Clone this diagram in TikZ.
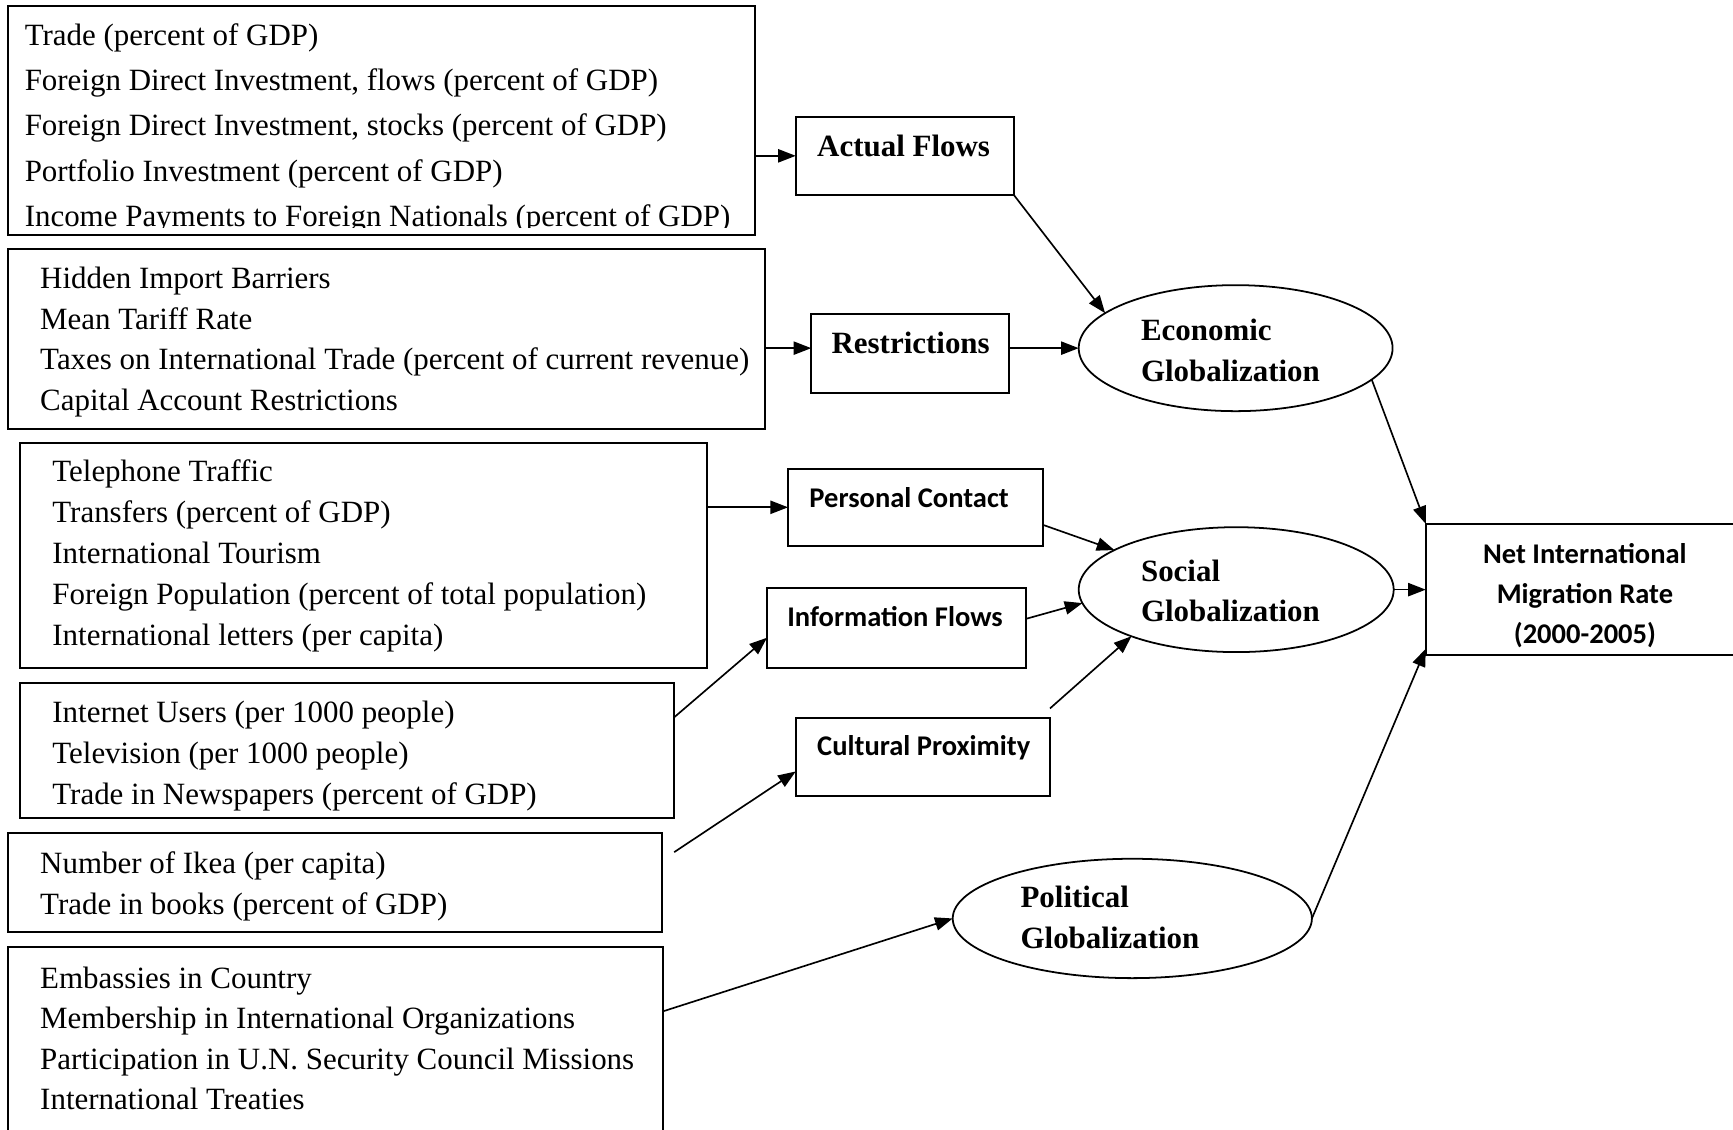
\documentclass[tikz,border=0pt]{standalone}
\usepackage{fontspec}
\setmainfont{Liberation Serif}
\setsansfont{Carlito}
\usetikzlibrary{arrows.meta,shapes.geometric,calc}
\tikzset{
  box/.style={draw, rectangle, line width=0.9pt, inner sep=0pt, outer sep=0pt},
  oval/.style={draw, ellipse, line width=0.8pt, inner sep=0pt, outer sep=0pt},
  item/.style={anchor=base west, inner sep=0pt, font=\fontsize{14}{17}\selectfont},
  lab/.style={anchor=base west, inner sep=0pt, font=\fontsize{14}{17}\selectfont\bfseries},
  slab/.style={anchor=base west, inner sep=0pt, font=\fontsize{12.9}{15}\selectfont\sffamily\bfseries},
  nlab/.style={anchor=base, inner sep=0pt, font=\fontsize{12.9}{15}\selectfont\sffamily\bfseries},
  conn/.style={line width=0.75pt, -{Triangle[length=8pt,width=6pt]}}
}
\begin{document}
\begin{tikzpicture}[x=0.5pt,y=-0.5pt]
\useasboundingbox (0,0) rectangle (1568,1022);
\coordinate (r315) at (0,315);
% indicator boxes
\node[box, minimum width=338pt, minimum height=104pt] (b1) at (345,109) {};
\node[box, minimum width=342.5pt, minimum height=81.5pt] (b2) at (349.5,306.5) {};
\node[box, minimum width=311pt, minimum height=101.5pt] (b3) at (329,502.5) {};
\node[box, minimum width=296pt, minimum height=61pt] (b4) at (314,679) {};
\node[box, minimum width=296pt, minimum height=44.5pt] (b5) at (303,798.5) {};
\node[box, minimum width=296.5pt, minimum height=91.5pt] (b6) at (303.5,948.5) {};
% sub-index boxes
\node[box, minimum width=98.5pt, minimum height=35pt] (af) at (818.5,141) {};
\node[box, minimum width=89.5pt, minimum height=36pt] (rs) at (823.5,320) {};
\node[box, minimum width=115.5pt, minimum height=35pt] (pc) at (828.5,459) {};
\node[box, minimum width=117pt, minimum height=36pt] (inf) at (811,568) {};
\node[box, minimum width=115pt, minimum height=35pt] (cp) at (835,685) {};
\node[box, minimum width=145pt, minimum height=59.5pt] (nim) at (1435,533.5) {};
% ellipses
\node[oval, minimum width=142pt, minimum height=57pt] (eco) at (1118,315) {};
\node[oval, minimum width=142.5pt, minimum height=56.5pt] (soc) at (1118.5,533.5) {};
\node[oval, minimum width=162.5pt, minimum height=54pt] (pol) at (1024.5,831) {};
% texts
\begin{scope}
\clip (7,5) rectangle (683,206);
\foreach \t [count=\i] in {{Trade (percent of GDP)},{Foreign Direct Investment, flows (percent of GDP)},{Foreign Direct Investment, stocks (percent of GDP)},{Portfolio Investment (percent of GDP)},{Income Payments to Foreign Nationals (percent of GDP)}}
  \node[item] (b1t\i) at (22,{41+41*(\i-1)}) {\t};
\end{scope}
\foreach \t [count=\i] in {{Hidden Import Barriers},{Mean Tariff Rate},{Taxes on International Trade (percent of current revenue)},{Capital Account Restrictions}}
  \node[item] (b2t\i) at (36,{261+36.7*(\i-1)}) {\t};
\foreach \t [count=\i] in {{Telephone Traffic},{Transfers (percent of GDP)},{International Tourism},{Foreign Population (percent of total population)},{International letters (per capita)}}
  \node[item] (b3t\i) at (47,{436+37*(\i-1)}) {\t};
\foreach \t [count=\i] in {{Internet Users (per 1000 people)},{Television (per 1000 people)},{Trade in Newspapers (percent of GDP)}}
  \node[item] (b4t\i) at (47,{654+37*(\i-1)}) {\t};
\foreach \t [count=\i] in {{Number of Ikea (per capita)},{Trade in books (percent of GDP)}}
  \node[item] (b5t\i) at (36,{790+37*(\i-1)}) {\t};
\foreach \t [count=\i] in {{Embassies in Country},{Membership in International Organizations},{Participation in U.N. Security Council Missions},{International Treaties}}
  \node[item] (b6t\i) at (36,{894+36.7*(\i-1)}) {\t};
\node[lab] (aft) at (739,142) {Actual Flows};
\node[lab] (rst) at (752,320) {Restrictions};
\node[lab] (ecot1) at (1032,308) {Economic};
\node[lab] (ecot2) at (1032,345) {Globalization};
\node[lab] (soct1) at (1032,526) {Social};
\node[lab] (soct2) at (1032,562) {Globalization};
\node[lab] (polt1) at (923,821) {Political};
\node[lab] (polt2) at (923,858) {Globalization};
\node[slab] (pct) at (732,459) {Personal Contact};
\node[slab] (inft) at (712,567) {Information Flows};
\node[slab] (cpt) at (739,684) {Cultural Proximity};
\node[nlab] (nimt1) at (1434,510) {Net International};
\node[nlab] (nimt2) at (1434,546) {Migration Rate};
\node[nlab] (nimt3) at (1434,582) {(2000-2005)};
% connectors
\draw[conn] (b1.east |- af.west) -- (af.west);
\draw[conn] (b2.east |- r315) -- (rs.west |- r315);
\draw[conn] (rs.east |- r315) -- (eco.west);
\draw[conn] (af.south east) -- (eco.165);
\draw[conn] (b3.east |- pc.west) -- (pc.west);
\draw[conn] ([yshift=-8pt]pc.east) -- (soc.162);
\draw[conn] ([yshift=4pt]inf.east) -- (soc.185);
\draw[conn] ([yshift=4.5pt]cp.north east) -- (soc.204);
\draw[conn] ([yshift=15pt]b4.east) -- ([yshift=-4.5pt]inf.west);
\draw[conn] ([xshift=5.5pt,yshift=13.75pt]b5.east) -- ([yshift=-6.5pt]cp.west);
\draw[conn] ([yshift=16.75pt]b6.east) -- (pol.west);
\draw[conn] (eco.-13) -- (nim.north west);
\draw[conn] (soc.east) -- (nim.west);
\draw[conn] (pol.east) -- ([yshift=3pt]nim.south west);
\end{tikzpicture}
\end{document}
